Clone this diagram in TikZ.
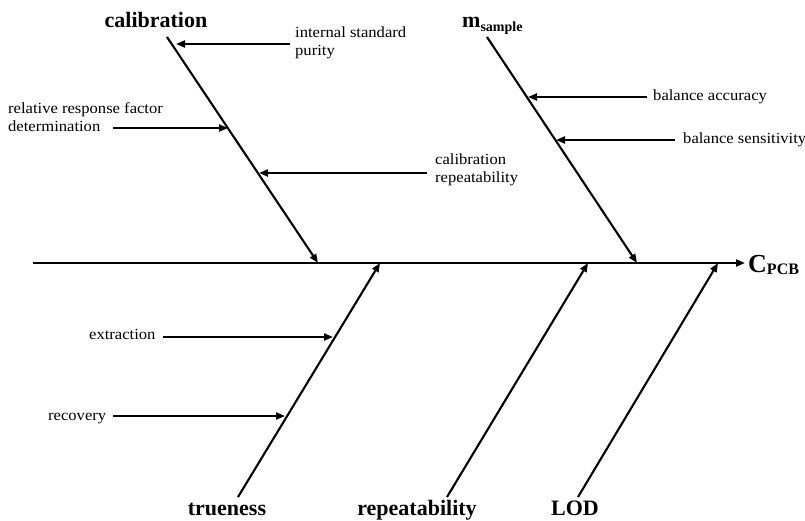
\documentclass[tikz,border=0pt]{standalone}
\usepackage{fontspec}
\setmainfont{Liberation Serif}
\newfontfamily\lblfont[FakeStretch=1.07]{Liberation Serif}
\usetikzlibrary{arrows.meta}
\begin{document}
\begin{tikzpicture}[x=1pt,y=-1pt,
  arr/.style={line width=2.1pt,-{Triangle[length=9pt,width=7pt]}},
  cause/.style={font=\lblfont\fontsize{15.5}{18}\selectfont, inner sep=0pt, align=left},
  head/.style={font=\bfseries\fontsize{22}{24}\selectfont, inner sep=0pt}]
\useasboundingbox (0,0) rectangle (805,521);

% main axis
\coordinate (axL) at (33,263);
\coordinate (axR) at (745,263);
\draw[arr] (axL) -- (axR);
\node[anchor=base west, inner sep=0pt, font=\bfseries\fontsize{26}{28}\selectfont] (cpcb) at (748,272)
  {C\raisebox{-2pt}{\fontsize{16}{16}\selectfont PCB}};

% calibration branch
\node[head, anchor=base] (cal) at (156,28) {calibration};
\coordinate (calT) at (167,37);
\coordinate (calB) at (318,263);
\draw[arr] (calT) -- (calB);

\node[cause, anchor=west] (isp) at (295,42.5) {internal standard\\purity};
\coordinate (ispS) at (290,44);
\coordinate (ispE) at (176,44);
\draw[arr] (ispS) -- (ispE);

\node[cause, anchor=west] (rrf) at (8,117.5) {relative response factor\\determination};
\coordinate (rrfS) at (113,128);
\coordinate (rrfE) at (228,128);
\draw[arr] (rrfS) -- (rrfE);

\node[cause, anchor=west] (crp) at (435,169.5) {calibration\\repeatability};
\coordinate (crpS) at (427,173);
\coordinate (crpE) at (259,173);
\draw[arr] (crpS) -- (crpE);

% m_sample branch
\node[anchor=base west, inner sep=0pt, font=\bfseries\fontsize{22}{24}\selectfont] (ms) at (462,28)
  {m\raisebox{-4pt}{\fontsize{14}{14}\selectfont sample}};
\coordinate (msT) at (487,37);
\coordinate (msB) at (637,263);
\draw[arr] (msT) -- (msB);

\node[cause, anchor=base west] (bac) at (653,101) {balance accuracy};
\coordinate (bacS) at (647,97);
\coordinate (bacE) at (528,97);
\draw[arr] (bacS) -- (bacE);

\node[cause, anchor=base west] (bse) at (683,144) {balance sensitivity};
\coordinate (bseS) at (675,140);
\coordinate (bseE) at (556,140);
\draw[arr] (bseS) -- (bseE);

% trueness branch
\node[head, anchor=base] (tru) at (227,515) {trueness};
\coordinate (truB) at (238,497);
\coordinate (truT) at (380,263);
\draw[arr] (truB) -- (truT);

\node[cause, anchor=base west] (ext) at (89,339) {extraction};
\coordinate (extS) at (163,337);
\coordinate (extE) at (333,337);
\draw[arr] (extS) -- (extE);

\node[cause, anchor=base west] (rec) at (48,420) {recovery};
\coordinate (recS) at (113,416);
\coordinate (recE) at (285,416);
\draw[arr] (recS) -- (recE);

% repeatability branch
\node[head, anchor=base] (rep) at (417,515.5) {repeatability};
\coordinate (repB) at (447,497);
\coordinate (repT) at (588,263);
\draw[arr] (repB) -- (repT);

% LOD branch
\node[head, anchor=base] (lod) at (575,515) {LOD};
\coordinate (lodB) at (578,497);
\coordinate (lodT) at (718,263);
\draw[arr] (lodB) -- (lodT);
\end{tikzpicture}
\end{document}
